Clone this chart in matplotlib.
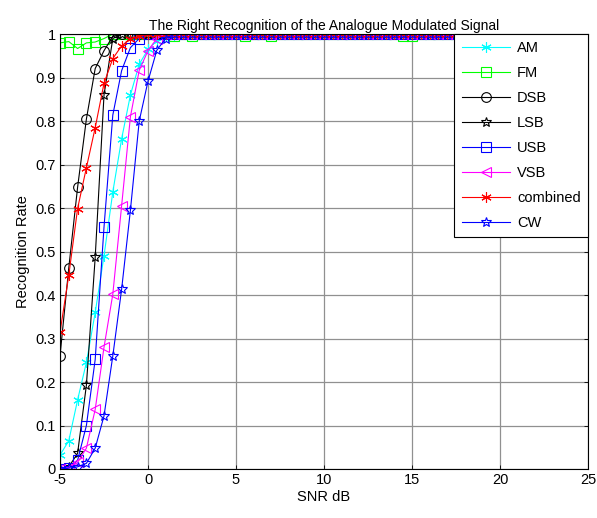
import numpy as np
import matplotlib
matplotlib.use("Agg")
import matplotlib.pyplot as plt
from matplotlib.ticker import FuncFormatter

plt.rcParams["font.family"] = ["Liberation Sans", "DejaVu Sans"]
plt.rcParams["axes.unicode_minus"] = False

# SNR axis, -5 dB to 25 dB in 0.5 dB steps
snr = np.arange(-5, 25.5, 0.5)

am = [0.032, 0.065, 0.159, 0.245, 0.36, 0.49, 0.637, 0.759, 0.86, 0.931,
      0.965, 0.985, 0.995, 0.998, 1, 1, 1, 1, 1, 1,
      1, 1, 1, 1, 1, 1, 1, 1, 1, 1,
      1, 1, 1, 1, 1, 1, 1, 1, 1, 1,
      1, 1, 1, 1, 1, 1, 1, 1, 1, 1,
      1, 1, 1, 1, 1, 1, 1, 1, 1, 1, 1]
fm = [0.98, 0.983, 0.967, 0.98, 0.982, 0.99, 1, 1, 1, 1,
      1, 1, 1, 0.996, 1, 0.996, 1, 1, 1, 1,
      1, 0.996, 1, 1, 0.995, 1, 1, 1, 1, 1,
      1, 1, 1, 1, 1, 1, 1, 1, 1, 0.996,
      0.996, 1, 1, 1, 1, 1, 1, 1, 1, 1,
      1, 1, 1, 1, 1, 1, 1, 1, 1, 1, 1]
dsb = [0.26, 0.463, 0.648, 0.805, 0.921, 0.962, 0.995, 1, 1, 1,
       1, 1, 1, 1, 1, 1, 1, 1, 1, 1,
       1, 1, 1, 1, 1, 1, 1, 1, 1, 1,
       1, 1, 1, 1, 1, 1, 1, 1, 1, 1,
       1, 1, 1, 1, 1, 1, 1, 1, 1, 1,
       1, 1, 1, 1, 1, 1, 1, 1, 1, 1, 1]
lsb = [0.0, 0.005, 0.036, 0.193, 0.487, 0.86, 0.99, 1, 1, 1,
       1, 1, 1, 1, 1, 1, 1, 1, 1, 1,
       1, 1, 1, 1, 1, 1, 1, 1, 1, 1,
       1, 1, 1, 1, 1, 1, 1, 1, 1, 1,
       1, 1, 1, 1, 1, 1, 1, 1, 1, 1,
       1, 1, 1, 1, 1, 1, 1, 1, 1, 1, 1]
usb = [0.0, 0.003, 0.02, 0.1, 0.252, 0.556, 0.814, 0.916, 0.969, 0.99,
       1, 1, 1, 1, 1, 1, 1, 1, 1, 1,
       1, 1, 1, 1, 1, 1, 1, 1, 1, 1,
       1, 1, 1, 1, 1, 1, 1, 1, 1, 1,
       1, 1, 1, 1, 1, 1, 1, 1, 1, 1,
       1, 1, 1, 1, 1, 1, 1, 1, 1, 1, 1]
vsb = [0.0, 0.003, 0.015, 0.048, 0.137, 0.28, 0.402, 0.605, 0.81, 0.917,
       0.962, 0.99, 1, 1, 1, 1, 1, 1, 1, 1,
       1, 1, 1, 1, 1, 1, 1, 1, 1, 1,
       1, 1, 1, 1, 1, 1, 1, 1, 1, 1,
       1, 1, 1, 1, 1, 1, 1, 1, 1, 1,
       1, 1, 1, 1, 1, 1, 1, 1, 1, 1, 1]
combined = [0.314, 0.446, 0.599, 0.693, 0.785, 0.887, 0.944, 0.973, 0.99, 0.995,
            1, 1, 1, 1, 1, 1, 1, 1, 1, 1,
            1, 1, 1, 1, 1, 1, 1, 1, 1, 1,
            1, 1, 1, 1, 1, 1, 1, 1, 1, 1,
            1, 1, 1, 1, 1, 1, 1, 1, 1, 1,
            1, 1, 1, 1, 1, 1, 1, 1, 1, 1, 1]
cw = [0.0, 0.002, 0.005, 0.013, 0.048, 0.122, 0.26, 0.413, 0.595, 0.8,
      0.892, 0.963, 0.99, 1, 1, 1, 1, 1, 1, 1,
      1, 1, 1, 1, 1, 1, 1, 1, 1, 1,
      1, 1, 1, 1, 1, 1, 1, 1, 1, 1,
      1, 1, 1, 1, 1, 1, 1, 1, 1, 1,
      1, 1, 1, 1, 1, 1, 1, 1, 1, 1, 1]

asterisk = (6, 2, 0)
series = [
    ("AM", am, "#00ffff", asterisk, 7.5),
    ("FM", fm, "#00ff00", "s", 7.5),
    ("DSB", dsb, "k", "o", 7),
    ("LSB", lsb, "k", "*", 7.5),
    ("USB", usb, "#0000ff", "s", 7.5),
    ("VSB", vsb, "#ff00ff", "<", 7.5),
    ("combined", combined, "#ff0000", asterisk, 7.5),
    ("CW", cw, "#0000ff", "*", 7.5),
]

fig = plt.figure(figsize=(5.97, 5.18), dpi=100)
ax = fig.add_axes([0.1005, 0.0946, 0.8845, 0.8394])

for name, vals, color, marker, ms in series:
    ax.plot(snr, vals, color=color, marker=marker, markersize=ms,
            markerfacecolor="none", markeredgecolor=color,
            markeredgewidth=0.8, linewidth=0.8, label=name)

ax.set_xlim(-5, 25)
ax.set_ylim(0, 1)
ax.set_xticks(np.arange(-5, 26, 5))
ax.set_yticks(np.linspace(0, 1, 11))
ax.yaxis.set_major_formatter(FuncFormatter(lambda v, p: "{:g}".format(round(v, 1))))
ax.tick_params(direction="in", top=True, right=True, labelsize=10.5,
               length=3, width=0.6, pad=3)
ax.grid(True, color="#909090", linewidth=0.9)
for sp in ax.spines.values():
    sp.set_linewidth(0.8)

ax.set_title("The Right Recognition of the Analogue Modulated Signal",
             fontsize=10, pad=3)
ax.set_xlabel("SNR dB", fontsize=10.5, labelpad=2)
ax.set_ylabel("Recognition Rate", fontsize=10.5, labelpad=4)

leg = ax.legend(loc="upper right", bbox_to_anchor=(1.0, 1.0),
                borderaxespad=0, fontsize=10.5, handlelength=3.3,
                labelspacing=0.75, fancybox=False, framealpha=1,
                edgecolor="k", borderpad=0.5, handletextpad=0.5)
leg.get_frame().set_linewidth(0.8)

fig.savefig("out.png", dpi=100)
